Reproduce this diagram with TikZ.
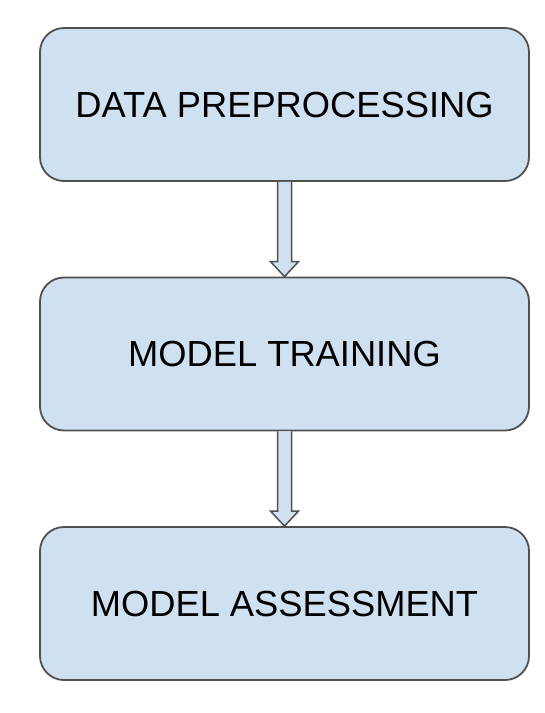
\documentclass[tikz,border=0pt]{standalone}
\usepackage{fontspec}
\setmainfont{Liberation Sans}
\usetikzlibrary{calc}
\definecolor{boxfill}{HTML}{CFE0F1}
\definecolor{boxline}{HTML}{505050}
\begin{document}
\begin{tikzpicture}[x=1pt,y=-1pt,
  stepbox/.style={draw=boxline, line width=1.8pt, fill=boxfill, rounded corners=24pt,
    minimum width=489pt, minimum height=153pt, inner sep=0pt, font=\fontsize{36.3}{40}\selectfont, text=black},
  blockarrow/.style={draw=boxline, line width=1.5pt, fill=boxfill, line join=miter}]
\useasboundingbox[fill=white] (0,0) rectangle (545,713);
\node[stepbox] (b1) at (284.5,104.5) {DATA PREPROCESSING};
\node[stepbox] (b2) at (284.5,354) {MODEL TRAINING};
\node[stepbox] (b3) at (284.5,603.5) {MODEL ASSESSMENT};
\foreach \a/\b in {b1/b2, b2/b3}{
  \draw[blockarrow] ($(\a.south)+(-7,0)$) -- ($(\b.north)+(-7,-15)$) -- ($(\b.north)+(-14,-15)$)
    -- (\b.north) -- ($(\b.north)+(14,-15)$) -- ($(\b.north)+(7,-15)$) -- ($(\a.south)+(7,0)$);
}
\end{tikzpicture}
\end{document}
